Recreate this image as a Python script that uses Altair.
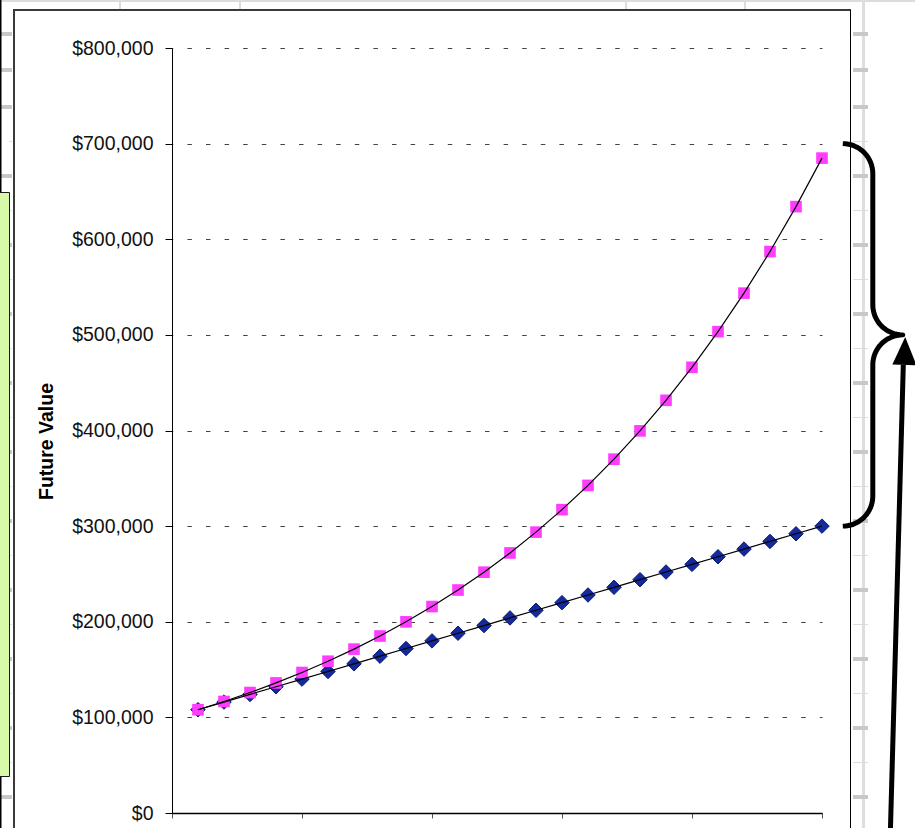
import math

import altair as alt
import pandas as pd

# ---- data -------------------------------------------------------------
years = list(range(1, 26))
simple_interest = [
    108000, 116000, 124000, 132000, 140000, 148000, 156000, 164000, 172000,
    180000, 188000, 196000, 204000, 212000, 220000, 228000, 236000, 244000,
    252000, 260000, 268000, 276000, 284000, 292000, 300000,
]
compound_interest = [
    108000, 116640, 125971, 136049, 146933, 158687, 171382, 185093, 199900,
    215892, 233164, 251817, 271962, 293719, 317217, 342594, 370002, 399602,
    431570, 466096, 503383, 543654, 587146, 634118, 684848,
]
y_ticks = [0, 100000, 200000, 300000, 400000, 500000, 600000, 700000, 800000]
x_ticks = [0, 5, 10, 15, 20, 25]

# ---- geometry ---------------------------------------------------------
W, H = 650, 765            # plot area
OX, OY = 172, 48           # plot origin on the page
PAGE_W, PAGE_H = 915, 828
X_MAX, Y_MAX = 25, 800000
PX_PER_YEAR = W / X_MAX
PX_PER_DOLLAR = H / Y_MAX
FONT = "Liberation Sans"


def to_year(px):
    return px / PX_PER_YEAR


def to_value(py):
    return (H - py) / PX_PER_DOLLAR


def px_of_year(yr):
    return yr * PX_PER_YEAR


def py_of_value(v):
    return H - v * PX_PER_DOLLAR


x_scale = alt.Scale(domain=[0, X_MAX], nice=False, zero=False)
y_scale = alt.Scale(domain=[0, Y_MAX], nice=False)

x_axis = alt.Axis(
    values=x_ticks, labels=False, title=None, grid=False,
    tickSize=5, tickColor="#555555", tickWidth=1,
    domainColor="#000000", domainWidth=1.5,
)
y_axis = alt.Axis(
    values=y_ticks, format="$,d",
    labelFont=FONT, labelFontSize=19.5, labelColor="#111111", labelPadding=12,
    tickSize=7, tickColor="#000000", domainColor="#000000",
    grid=True, gridColor="#444444", gridDash=[4.5, 14.1], gridDashOffset=3.7,
    title="Future Value", titleFont=FONT, titleFontSize=19.5,
    titleFontWeight="bold", titleColor="#000000",
    titleAngle=270, titleX=46 - OX, titleY=441 - OY,
    titleAlign="center", titleBaseline="middle",
)

# ---- series -----------------------------------------------------------
simple_df = pd.DataFrame({"year": years, "value": simple_interest})
compound_df = pd.DataFrame({"year": years, "value": compound_interest})

X = alt.X("year:Q", scale=x_scale, axis=x_axis)
Y = alt.Y("value:Q", scale=y_scale, axis=y_axis)

simple_pts = alt.Chart(simple_df).mark_point(
    shape="diamond", filled=True, size=210, color="#13299c", opacity=1,
    stroke="#0a1a78", strokeWidth=1,
).encode(x=X, y=Y)

compound_pts = alt.Chart(compound_df).mark_point(
    shape="square", filled=True, size=135, color="#ff3dff", opacity=1,
).encode(x=X, y=Y)

simple_line = alt.Chart(simple_df).mark_line(
    color="#000000", strokeWidth=1.2
).encode(x=X, y=Y)

compound_line = alt.Chart(compound_df).mark_line(
    color="#000000", strokeWidth=1.2
).encode(x=X, y=Y)

# ---- brace between the two final values, and the arrow ---------------
r = 30
bx0 = px_of_year(25.8)
spine = bx0 + r
tip = bx0 + 2 * r
ytop = py_of_value(700000)
ybot = py_of_value(300000)
ymid = py_of_value(500000)


def arc(cx, cy, a0, a1, n=16):
    pts = []
    for k in range(n + 1):
        a = math.radians(a0 + (a1 - a0) * k / n)
        pts.append((cx + r * math.cos(a), cy + r * math.sin(a)))
    return pts


brace_px = (
    arc(bx0, ytop + r, -90, 0)
    + arc(tip, ymid - r, 180, 90)
    + arc(tip, ymid + r, 270, 180)
    + arc(bx0, ybot - r, 0, 90)
)
brace_df = pd.DataFrame({
    "i": list(range(len(brace_px))),
    "year": [to_year(p[0]) for p in brace_px],
    "value": [to_value(p[1]) for p in brace_px],
})
brace = alt.Chart(brace_df).mark_line(
    color="#000000", strokeWidth=5, strokeCap="butt", strokeJoin="round"
).encode(
    x=alt.X("year:Q", scale=x_scale),
    y=alt.Y("value:Q", scale=y_scale),
    order=alt.Order("i:Q"),
)

arrow_df = pd.DataFrame({
    "year": [to_year(890 - OX)], "value": [to_value(845 - OY)],
    "year2": [to_year(tip + 0.5)], "value2": [to_value(ymid + 30)],
})
arrow_shaft = alt.Chart(arrow_df).mark_rule(
    color="#000000", strokeWidth=5, strokeCap="butt"
).encode(
    x=alt.X("year:Q", scale=x_scale), y=alt.Y("value:Q", scale=y_scale),
    x2="year2:Q", y2="value2:Q",
)

head_df = pd.DataFrame({"year": [to_year(tip + 2)], "value": [to_value(ymid + 16)]})
arrow_head = alt.Chart(head_df).mark_point(
    shape="M0,-1L0.86,1L-0.86,1Z", filled=True, size=784, color="#000000",
    opacity=1, angle=1.6,
).encode(x=alt.X("year:Q", scale=x_scale), y=alt.Y("value:Q", scale=y_scale))

# ---- worksheet backdrop around the chart frame ----------------------
rects = []


def box(x1, x2, y1, y2, fill):
    rects.append({"x": x1 - OX, "x2": x2 - OX, "y": y1 - OY, "y2": y2 - OY, "fill": fill})


box(0, 915, 0, 2, "#dcdcdc")
for vx in (120, 240, 626, 745):
    box(vx - 1, vx + 1, 0, 9, "#dcdcdc")
box(862, 865, 0, PAGE_H, "#dedede")
thick_rows = [34, 70] + [107 + 69 * k for k in range(11)]
thin_rows = [141.5 + 69 * k for k in range(10)]
for ry in thick_rows:
    box(853, 868, ry - 2, ry + 2, "#c8c8c8")
    box(0, 12, ry - 2, ry + 2, "#c8c8c8")
for ry in thin_rows:
    box(853, 868, ry - 0.5, ry + 0.5, "#dcdcdc")
    box(9, 12, ry - 0.5, ry + 0.5, "#dcdcdc")
box(0, 1.5, 0, PAGE_H, "#000000")

rect_df = pd.DataFrame(rects)
backdrop = alt.Chart(rect_df).mark_rect().encode(
    x=alt.X("x:Q", scale=None, axis=None), x2="x2:Q",
    y=alt.Y("y:Q", scale=None, axis=None), y2="y2:Q",
    color=alt.Color("fill:N", scale=None),
)

green_df = pd.DataFrame([{"x": -OX - 5, "x2": 9.5 - OX, "y": 192.5 - OY, "y2": 776.5 - OY}])
green_box = alt.Chart(green_df).mark_rect(
    fill="#d8f9a9", stroke="#1a1a1a", strokeWidth=1
).encode(
    x=alt.X("x:Q", scale=None, axis=None), x2="x2:Q",
    y=alt.Y("y:Q", scale=None, axis=None), y2="y2:Q",
)

frame_df = pd.DataFrame([
    {"x": 13 - OX, "x2": 851 - OX, "y": 10 - OY, "y2": 10 - OY, "w": 2.0, "c": "#3a3a3a"},
    {"x": 14 - OX, "x2": 14 - OX, "y": 10 - OY, "y2": PAGE_H + 10 - OY, "w": 2.0, "c": "#3a3a3a"},
    {"x": 850.5 - OX, "x2": 850.5 - OX, "y": 10 - OY, "y2": PAGE_H + 10 - OY, "w": 1.0, "c": "#000000"},
])
frame = alt.Chart(frame_df).mark_rule().encode(
    x=alt.X("x:Q", scale=None, axis=None), x2="x2:Q",
    y=alt.Y("y:Q", scale=None, axis=None), y2="y2:Q",
    strokeWidth=alt.StrokeWidth("w:Q", scale=None),
    color=alt.Color("c:N", scale=None),
)

chart = alt.layer(
    backdrop, green_box, frame,
    simple_pts, compound_pts, simple_line, compound_line,
    brace, arrow_shaft, arrow_head,
).properties(
    width=W, height=H,
    padding={"left": OX, "top": OY, "right": PAGE_W - OX - W, "bottom": PAGE_H - OY - H},
    autosize=alt.AutoSizeParams(type="none"),
    background="#ffffff",
).configure_view(stroke=None)

chart.save("out.html", embed_options={"renderer": "svg", "actions": False})
